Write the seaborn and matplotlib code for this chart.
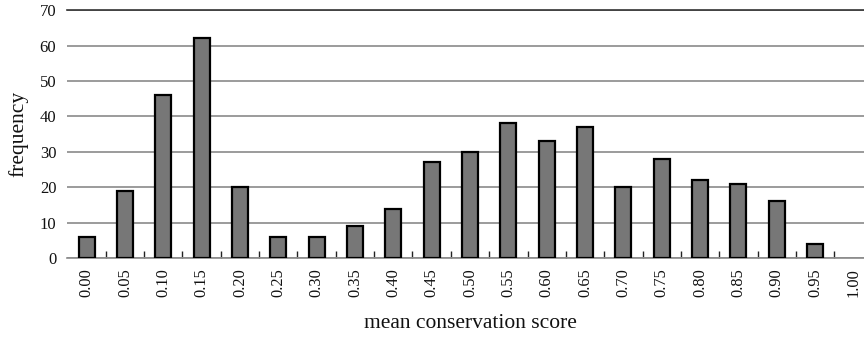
import matplotlib
matplotlib.use("Agg")
import matplotlib.pyplot as plt
from matplotlib.ticker import FixedLocator
import seaborn as sns
import pandas as pd
import numpy as np

# Histogram of mean conservation scores (bin lower edges and counts)
scores = ["0.00", "0.05", "0.10", "0.15", "0.20", "0.25", "0.30", "0.35", "0.40", "0.45",
          "0.50", "0.55", "0.60", "0.65", "0.70", "0.75", "0.80", "0.85", "0.90", "0.95", "1.00"]
counts = [6, 19, 46, 62, 20, 6, 6, 9, 14, 27, 30, 38, 33, 37, 20, 28, 22, 21, 16, 4, 0]
y_ticks = [0, 10, 20, 30, 40, 50, 60, 70]

df = pd.DataFrame({"score": scores, "frequency": counts})

sns.set_theme(style="white")
plt.rcParams["font.family"] = ["Liberation Serif", "DejaVu Serif"]

fig = plt.figure(figsize=(8.64, 3.37), dpi=100)
ax = fig.add_axes([0.078, 0.234, 0.932, 0.736])

sns.barplot(data=df, x="score", y="frequency", order=scores, color="#777777",
            saturation=1, width=0.42, edgecolor="black", linewidth=1.6, ax=ax, zorder=3)

# empty bins get no outline
for patch in ax.patches:
    if patch.get_height() == 0:
        patch.set_linewidth(0)

ax.set_xlim(-0.5, len(scores) - 0.5)
ax.set_ylim(0, 70)
ax.set_yticks(y_ticks)
ax.yaxis.grid(True, color="#8a8a8a", linewidth=1.2, zorder=0)
ax.set_axisbelow(True)

for side in ["left", "right"]:
    ax.spines[side].set_visible(False)
ax.spines["top"].set_color("#333333")
ax.spines["top"].set_linewidth(1.2)
ax.spines["bottom"].set_color("#8a8a8a")
ax.spines["bottom"].set_linewidth(1.2)

# category boundary tick marks on the x axis
ax.xaxis.set_minor_locator(FixedLocator(np.arange(0.5, len(scores) - 1, 1.0)))
ax.tick_params(axis="x", which="minor", bottom=True, direction="in", length=5,
               width=1, color="#222222")
ax.tick_params(axis="x", which="major", length=0, pad=7.5, labelrotation=90,
               labelsize=11.8, labelcolor="#111111")
ax.tick_params(axis="y", which="major", length=0, pad=8, labelsize=12,
               labelcolor="#111111")

ax.set_xlabel("mean conservation score", fontsize=15.5, color="#111111", labelpad=12)
ax.set_ylabel("frequency", fontsize=15.5, color="#111111", labelpad=8)

fig.savefig("out.png", dpi=100)
